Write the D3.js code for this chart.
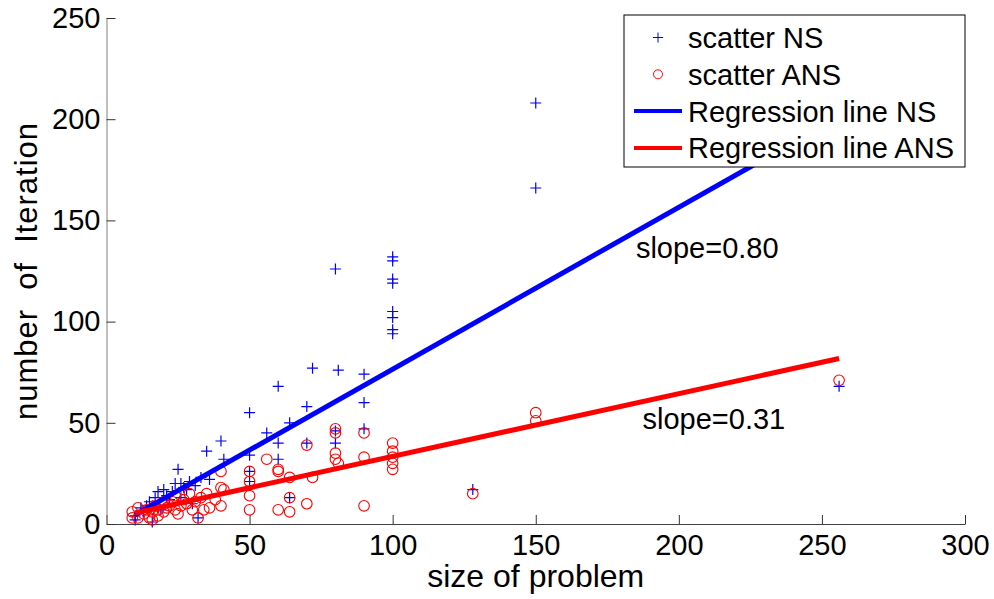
<!DOCTYPE html>
<html>
<head>
<meta charset="utf-8">
<script src="https://cdn.jsdelivr.net/npm/d3@7"></script>
<style>
  body { margin: 0; background: #fff; }
  text { font-family: "Liberation Sans", Arial, sans-serif; fill: #000; }
</style>
</head>
<body>
<div id="chart"></div>
<script>
// data: [size of problem, number of iteration]
var scatterNS = [
  [10,4],[10,2],[12,8],[13,6],[14,9],[15,11],[16,1],[16,9],[17,13],[18,16],[19,7],[20,17],
  [21,14],[22,12],[23,16],[24,20],[25,27],[26,20],[26,13],[27,18],[28,17],[29,21],[30,10],
  [31,19],[32,3],[33,23],[35,36],[36,22],[40,41],[41,32],[50,55],[50,34],[50,26],[50,21],
  [56,45],[60,68],[60,40],[60,32],[64,50],[64,13],[70,58],[70,40],[72,77],[80,126],[80,46],
  [80,40],[81,76],[90,74],[90,60],[90,47],[100,132],[100,130],[100,121],[100,119],[100,105],
  [100,102],[100,96],[100,94],[128,17],[150,208],[150,166],[256,68]
];
var scatterANS = [
  [9,6],[9,3],[11,8],[11,3],[13,5],[14,7],[15,3],[16,6],[16,2],[17,9],[18,7],[18,4],[20,6],
  [20,11],[21,8],[22,9],[23,11],[24,14],[24,7],[25,5],[26,9],[27,12],[28,10],[29,15],[30,7],
  [31,11],[32,3],[33,13],[34,7],[35,15],[36,8],[38,12],[40,26],[40,18],[40,9],[41,17],
  [50,26],[50,21],[50,14],[50,7],[56,32],[60,26],[60,27],[60,7],[64,23],[64,13],[64,6],
  [70,39],[70,10],[72,23],[80,47],[80,45],[80,35],[80,32],[81,30],[90,45],[90,33],[90,9],
  [100,40],[100,36],[100,33],[100,30],[100,27],[128,15],[150,55],[150,51],[256,71]
];
// regression lines: slope, intercept, x range
var regNS = { slope: 0.80, intercept: -3.5, from: 10, to: 256 };
var regANS = { slope: 0.31, intercept: 2.4, from: 10, to: 256 };

var xTicks = [0, 50, 100, 150, 200, 250, 300];
var yTicks = [0, 50, 100, 150, 200, 250];

var legendNames = ["scatter NS", "scatter ANS", "Regression line NS", "Regression line ANS"];
var slopeNotes = [
  { label: "slope=0.80", x: 185, y: 131.5 },
  { label: "slope=0.31", x: 187.3, y: 47 }
];

var width = 994, height = 599;
// plot box (window.top is reserved, so use other names)
var plotLeft = 106.5, plotRight = 965, plotTop = 18, plotBottom = 524;

var svg = d3.select("#chart").append("svg")
  .attr("width", width)
  .attr("height", height);

var x = d3.scaleLinear().domain([0, 300]).range([plotLeft, plotRight]);
var y = d3.scaleLinear().domain([0, 250]).range([plotBottom, plotTop]);

// axes (box off, ticks pointing inward)
var xAxis = svg.append("g")
  .attr("transform", "translate(0," + plotBottom + ")")
  .call(d3.axisBottom(x).tickValues(xTicks).tickSizeInner(-9).tickSizeOuter(0).tickPadding(10));
xAxis.select(".domain").attr("stroke", "#404040");
xAxis.selectAll(".tick line").attr("stroke", "#333");
xAxis.selectAll("text").attr("font-size", 29).attr("font-family", null);

var yAxis = svg.append("g")
  .attr("transform", "translate(" + plotLeft + ",0)")
  .call(d3.axisLeft(y).tickValues(yTicks).tickSizeInner(-9).tickSizeOuter(0).tickPadding(6));
yAxis.select(".domain").attr("stroke", "#808080");
yAxis.selectAll(".tick line").attr("stroke", "#333");
yAxis.selectAll("text").attr("font-size", 29).attr("font-family", null);

// axis labels
svg.append("text")
  .attr("x", (plotLeft + plotRight) / 2)
  .attr("y", 587)
  .attr("text-anchor", "middle")
  .attr("font-size", 32)
  .text("size of problem");

svg.append("text")
  .attr("transform", "translate(37,271.5)rotate(-90)")
  .attr("text-anchor", "middle")
  .attr("font-size", 31)
  .attr("textLength", 297)
  .attr("lengthAdjust", "spacing")
  .style("white-space", "pre")
  .text("number  of  Iteration");

// scatter NS (plus markers)
svg.append("g").selectAll("path")
  .data(scatterNS).enter()
  .append("path")
  .attr("d", "M-5.5,0H5.5M0,-5.5V5.5")
  .attr("transform", function(d) { return "translate(" + x(d[0]) + "," + y(d[1]) + ")"; })
  .attr("stroke", "#0000ff")
  .attr("stroke-width", 1.2)
  .attr("fill", "none");

// scatter ANS (circle markers)
svg.append("g").selectAll("circle")
  .data(scatterANS).enter()
  .append("circle")
  .attr("cx", function(d) { return x(d[0]); })
  .attr("cy", function(d) { return y(d[1]); })
  .attr("r", 5.3)
  .attr("stroke", "#ff0000")
  .attr("stroke-width", 1.1)
  .attr("fill", "none");

// regression lines
function drawReg(reg, colour) {
  var pts = [reg.from, reg.to].map(function(v) { return [v, reg.slope * v + reg.intercept]; });
  svg.append("path")
    .datum(pts)
    .attr("d", d3.line().x(function(d) { return x(d[0]); }).y(function(d) { return y(d[1]); }))
    .attr("stroke", colour)
    .attr("stroke-width", 5)
    .attr("fill", "none");
}
drawReg(regNS, "#0000ff");
drawReg(regANS, "#ff0000");

// slope notes
svg.selectAll(".note")
  .data(slopeNotes).enter()
  .append("text")
  .attr("class", "note")
  .attr("x", function(d) { return x(d.x); })
  .attr("y", function(d) { return y(d.y); })
  .attr("font-size", 29)
  .text(function(d) { return d.label; });

// legend
var legend = svg.append("g");
legend.append("rect")
  .attr("x", 624).attr("y", 15)
  .attr("width", 341).attr("height", 152)
  .attr("fill", "#fff")
  .attr("stroke", "#000")
  .attr("stroke-width", 1);

var rowY = function(i) { return 37.5 + i * 36.8; };
legend.selectAll(".ltext")
  .data(legendNames).enter()
  .append("text")
  .attr("class", "ltext")
  .attr("x", 688)
  .attr("y", function(d, i) { return rowY(i); })
  .attr("dy", "0.36em")
  .attr("font-size", 29)
  .text(function(d) { return d; });

legend.append("path")
  .attr("d", "M-5,0H5M0,-5V5")
  .attr("transform", "translate(658," + rowY(0) + ")")
  .attr("stroke", "#0000ff")
  .attr("fill", "none");
legend.append("circle")
  .attr("cx", 658).attr("cy", rowY(1)).attr("r", 4.5)
  .attr("stroke", "#ff0000")
  .attr("fill", "none");
legend.append("line")
  .attr("x1", 634).attr("x2", 682)
  .attr("y1", rowY(2)).attr("y2", rowY(2))
  .attr("stroke", "#0000ff").attr("stroke-width", 4);
legend.append("line")
  .attr("x1", 634).attr("x2", 682)
  .attr("y1", rowY(3)).attr("y2", rowY(3))
  .attr("stroke", "#ff0000").attr("stroke-width", 4);
</script>
</body>
</html>
